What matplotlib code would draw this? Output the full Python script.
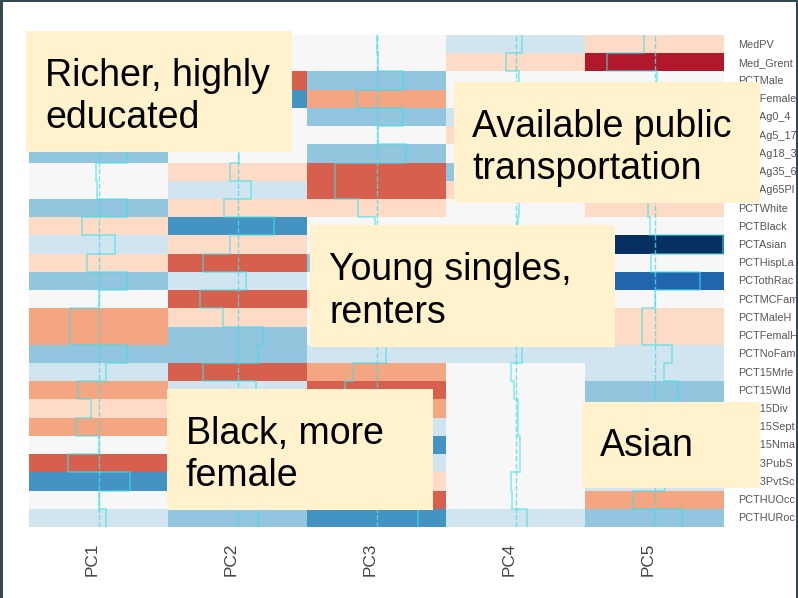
import numpy as np
import matplotlib
matplotlib.use("Agg")
import matplotlib.pyplot as plt
from matplotlib.colors import ListedColormap, BoundaryNorm
from matplotlib.patches import Rectangle

plt.rcParams['font.family'] = ['Liberation Sans', 'DejaVu Sans']

# labels as far as they can be read before the slide edge cuts them
row_labels = ['MedPV', 'Med_Grent', 'PCTMale', 'PCTFemale', 'PCTAg0_4', 'PCTAg5_17',
              'PCTAg18_3', 'PCTAg35_6', 'PCTAg65Pl', 'PCTWhite', 'PCTBlack', 'PCTAsian',
              'PCTHispLa', 'PCTothRac', 'PCTMCFam', 'PCTMaleH', 'PCTFemalH', 'PCTNoFam',
              'PCT15Mrle', 'PCT15Wld', 'PCT15Div', 'PCT15Sept', 'PCT15Nma', 'PCT3PubS',
              'PCT3PvtSc', 'PCTHUOcc', 'PCTHURoc']
col_labels = ['PC1', 'PC2', 'PC3', 'PC4', 'PC5']

# loadings, rows under the text boxes are estimates
pc1 = [0.20, 0.30, -0.05, 0.05, -0.20, 0.15, 0.41, -0.03, -0.02, 0.41, -0.24, 0.24, -0.16, 0.41,
       0.00, -0.41, -0.41, 0.41, 0.11, -0.29, -0.11, -0.33, 0.00, -0.44, 0.46, 0.01, 0.11]
pc2 = [0.02, 0.03, -0.50, 0.50, 0.02, 0.01, 0.02, -0.11, 0.19, -0.19, 0.52, -0.11, -0.49, 0.12,
       -0.54, -0.21, 0.36, 0.30, -0.50, 0.26, -0.20, -0.45, 0.10, 0.20, 0.05, -0.10, 0.29]
pc3 = [0.01, 0.02, 0.38, -0.28, 0.38, 0.02, 0.42, -0.60, -0.60, -0.26, -0.02, 0.00, 0.30, 0.00,
       -0.15, 0.00, 0.00, 0.14, -0.34, -0.46, -0.33, 0.18, 0.55, 0.16, -0.20, -0.48, 0.60]
pc4 = [0.09, -0.13, 0.05, 0.00, 0.12, -0.12, 0.02, 0.30, -0.15, 0.05, 0.03, 0.02, 0.00, 0.01,
       0.02, 0.00, 0.01, 0.09, -0.06, -0.02, 0.04, 0.04, 0.07, 0.07, -0.06, -0.05, 0.17]
pc5 = [-0.15, -0.69, 0.03, 0.01, 0.02, 0.00, 0.01, -0.02, 0.00, -0.09, -0.06, 0.99, -0.05, 0.65,
       0.00, -0.18, -0.18, 0.25, 0.14, 0.34, 0.30, 0.01, 0.00, 0.02, 0.15, -0.31, 0.39]

breaks = [-1.0, -0.65, -0.43, -0.27, -0.08, 0.08, 0.27, 0.45, 0.62, 0.85, 1.0]
colors = ['#b2182b', '#d6604d', '#f4a582', '#fddbc7', '#f7f7f7',
          '#d1e5f0', '#92c5de', '#4393c3', '#2166ac', '#053061']

# text, box x, y, w, h, text x, text centre y
annotations = [
    ("Richer, highly\neducated", 26, 31, 266, 121, 45, 97),
    ("Available public\ntransportation", 454, 82, 306, 121, 472, 148),
    ("Young singles,\nrenters", 310, 225, 305, 122, 329, 291.5),
    ("Black, more\nfemale", 167, 389, 266, 121, 186, 455),
    ("Asian", 582, 402, 178, 86, 600, 446),
]

W, H = 798, 598
data = np.array([pc1, pc2, pc3, pc4, pc5]).T

fig = plt.figure(figsize=(W / 100, H / 100), dpi=100)
ax = fig.add_axes([29 / W, 1 - 527 / H, 695 / W, 492 / H])
ax.pcolormesh(data, cmap=ListedColormap(colors), norm=BoundaryNorm(breaks, len(colors)))
ax.set_xlim(0, 5)
ax.set_ylim(27, 0)

# heatmap.2 style trace, one per column
edges = np.arange(data.shape[0] + 1)
for i in range(data.shape[1]):
    centre = i + 0.5
    ax.axvline(centre, color='#4fdcea', lw=1, ls='--', alpha=0.8)
    ax.plot(centre + np.repeat(data[:, i], 2) * 0.5, np.repeat(edges, 2)[1:-1],
            color='#40e0e8', lw=1.2, alpha=0.6, solid_joinstyle='miter')

for s in ax.spines.values():
    s.set_visible(False)
ax.yaxis.tick_right()
ax.set_yticks(np.arange(27) + 0.47)
ax.set_yticklabels(row_labels, fontsize=7.8, color='#555555')
ax.set_xticks(np.arange(5) + 0.5 - 0.045)
ax.set_xticklabels(col_labels, rotation=90, fontsize=12.4, color='#444444')
ax.tick_params(axis='y', length=0, pad=10.2)
ax.tick_params(axis='x', length=0, pad=11.5)

# overlay in pixel coords for the slide text boxes and the dark frame
over = fig.add_axes([0, 0, 1, 1], facecolor='none')
over.set_xlim(0, W)
over.set_ylim(H, 0)
over.axis('off')
for text, x, y, w, h, tx, ty in annotations:
    over.add_patch(Rectangle((x, y), w, h, facecolor='#fff2cc', edgecolor='none'))
    over.text(tx, ty, text, fontsize=27, color='black', va='center', ha='left',
              linespacing=1.24)
frame = '#36474f'
over.add_patch(Rectangle((0, 0), W, 2, facecolor=frame, edgecolor='none'))
over.add_patch(Rectangle((0, 0), 3, H, facecolor=frame, edgecolor='none'))
over.add_patch(Rectangle((W - 2, 0), 2, H, facecolor=frame, edgecolor='none'))

fig.savefig('out.png', dpi=100)
